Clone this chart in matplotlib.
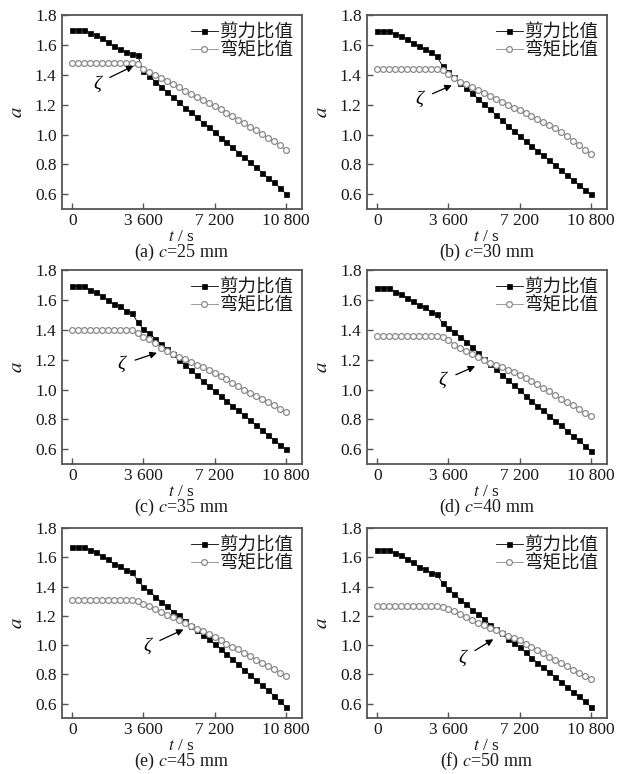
import matplotlib
matplotlib.use("Agg")
import matplotlib.pyplot as plt
from matplotlib.transforms import offset_copy

plt.rcParams['font.family'] = ['Liberation Serif', 'Noto Sans CJK SC']
plt.rcParams['mathtext.fontset'] = 'stix'

# ---------------- data ----------------
time_s = [0, 300, 600, 900, 1200, 1500, 1800, 2100, 2400, 2700, 3000, 3300,
          3600, 3900, 4200, 4500, 4800, 5100, 5400, 5700, 6000, 6300, 6600, 6900,
          7200, 7500, 7800, 8100, 8400, 8700, 9000, 9300, 9600, 9900, 10200, 10500, 10800]

x_ticks = [0, 3600, 7200, 10800]
x_ticklabels = ["0", "3 600", "7 200", "10 800"]
y_ticks = [0.6, 0.8, 1.0, 1.2, 1.4, 1.6, 1.8]
y_ticklabels = ["0.6", "0.8", "1.0", "1.2", "1.4", "1.6", "1.8"]

series_names = ["剪力比值", "弯矩比值"]
panel_letters = ["(a)", "(b)", "(c)", "(d)", "(e)", "(f)"]
panel_c_mm = [25, 30, 35, 40, 45, 50]

shear_a = [1.70, 1.70, 1.70, 1.68, 1.665, 1.645, 1.62, 1.59, 1.57, 1.555, 1.54, 1.53,
           1.425, 1.39, 1.355, 1.32, 1.285, 1.25, 1.215, 1.18, 1.15, 1.115, 1.08, 1.05,
           1.015, 0.98, 0.95, 0.915, 0.88, 0.85, 0.815, 0.78, 0.745, 0.71, 0.68, 0.645, 0.605]
bend_a = [1.48, 1.48, 1.48, 1.48, 1.48, 1.48, 1.48, 1.48, 1.48, 1.48, 1.48, 1.47,
          1.44, 1.42, 1.40, 1.378, 1.357, 1.335, 1.315, 1.293, 1.272, 1.25, 1.23, 1.21,
          1.19, 1.168, 1.146, 1.124, 1.10, 1.077, 1.053, 1.03, 1.005, 0.98, 0.955, 0.928, 0.90]

shear_b = [1.69, 1.69, 1.69, 1.675, 1.66, 1.64, 1.615, 1.59, 1.57, 1.55, 1.525, 1.46,
           1.42, 1.384, 1.348, 1.312, 1.276, 1.24, 1.204, 1.168, 1.132, 1.096, 1.06, 1.025,
           0.99, 0.957, 0.925, 0.892, 0.86, 0.827, 0.795, 0.762, 0.73, 0.697, 0.665, 0.632, 0.60]
bend_b = [1.44, 1.44, 1.44, 1.44, 1.44, 1.44, 1.44, 1.44, 1.44, 1.44, 1.44, 1.43,
          1.405, 1.38, 1.355, 1.335, 1.315, 1.295, 1.275, 1.255, 1.235, 1.215, 1.195, 1.18,
          1.165, 1.145, 1.125, 1.105, 1.085, 1.065, 1.044, 1.015, 0.99, 0.96, 0.93, 0.90, 0.87]

shear_c = [1.69, 1.69, 1.69, 1.665, 1.65, 1.627, 1.598, 1.571, 1.56, 1.526, 1.515, 1.452,
           1.403, 1.376, 1.34, 1.305, 1.27, 1.235, 1.20, 1.165, 1.13, 1.095, 1.06, 1.025,
           0.99, 0.957, 0.925, 0.892, 0.86, 0.827, 0.795, 0.762, 0.73, 0.697, 0.665, 0.632, 0.60]
bend_c = [1.40, 1.40, 1.40, 1.40, 1.40, 1.40, 1.40, 1.40, 1.40, 1.40, 1.40, 1.38,
          1.35, 1.335, 1.31, 1.28, 1.26, 1.24, 1.22, 1.205, 1.185, 1.165, 1.15, 1.13,
          1.11, 1.09, 1.07, 1.045, 1.025, 1.00, 0.98, 0.96, 0.94, 0.915, 0.895, 0.87, 0.85]

shear_d = [1.68, 1.68, 1.68, 1.655, 1.64, 1.615, 1.59, 1.565, 1.55, 1.522, 1.504, 1.444,
           1.41, 1.388, 1.352, 1.321, 1.285, 1.245, 1.205, 1.17, 1.135, 1.10, 1.065, 1.03,
           0.995, 0.96, 0.925, 0.89, 0.86, 0.825, 0.79, 0.76, 0.725, 0.69, 0.66, 0.625, 0.59]
bend_d = [1.36, 1.36, 1.36, 1.36, 1.36, 1.36, 1.36, 1.36, 1.36, 1.36, 1.36, 1.35,
          1.33, 1.30, 1.275, 1.255, 1.237, 1.22, 1.20, 1.18, 1.165, 1.15, 1.13, 1.115,
          1.10, 1.075, 1.055, 1.035, 1.01, 0.99, 0.965, 0.94, 0.92, 0.895, 0.87, 0.845, 0.82]

shear_e = [1.67, 1.67, 1.67, 1.65, 1.635, 1.61, 1.585, 1.555, 1.54, 1.512, 1.50, 1.444,
           1.398, 1.369, 1.33, 1.296, 1.266, 1.227, 1.204, 1.165, 1.13, 1.10, 1.07, 1.04,
           1.01, 0.975, 0.94, 0.905, 0.87, 0.83, 0.795, 0.76, 0.725, 0.69, 0.655, 0.615, 0.58]
bend_e = [1.31, 1.31, 1.31, 1.31, 1.31, 1.31, 1.31, 1.31, 1.31, 1.31, 1.31, 1.30,
          1.28, 1.265, 1.245, 1.225, 1.205, 1.19, 1.17, 1.15, 1.13, 1.11, 1.095, 1.075,
          1.055, 1.035, 1.01, 0.99, 0.97, 0.945, 0.925, 0.90, 0.88, 0.855, 0.835, 0.81, 0.79]

shear_f = [1.65, 1.65, 1.65, 1.63, 1.615, 1.59, 1.565, 1.535, 1.52, 1.496, 1.483, 1.425,
           1.38, 1.35, 1.31, 1.28, 1.24, 1.21, 1.18, 1.14, 1.11, 1.08, 1.045, 1.015,
           0.985, 0.95, 0.915, 0.88, 0.85, 0.815, 0.78, 0.75, 0.715, 0.68, 0.65, 0.615, 0.58]
bend_f = [1.27, 1.27, 1.27, 1.27, 1.27, 1.27, 1.27, 1.27, 1.27, 1.27, 1.27, 1.26,
          1.245, 1.23, 1.21, 1.19, 1.17, 1.15, 1.135, 1.115, 1.10, 1.08, 1.065, 1.05,
          1.035, 1.01, 0.99, 0.965, 0.945, 0.92, 0.90, 0.875, 0.855, 0.83, 0.81, 0.79, 0.77]

shear_all = [shear_a, shear_b, shear_c, shear_d, shear_e, shear_f]
bend_all = [bend_a, bend_b, bend_c, bend_d, bend_e, bend_f]

# zeta annotation: label position and arrow head (data coords)
zeta_text_t = [1240, 2130, 2500, 3310, 3770, 4300]
zeta_text_a = [1.34, 1.235, 1.167, 1.06, 0.99, 0.91]
zeta_head_t = [3100, 3770, 4280, 4950, 5630, 5870]
zeta_head_a = [1.46, 1.33, 1.246, 1.156, 1.107, 1.04]

# ---------------- figure ----------------
W, H = 617, 774
fig = plt.figure(figsize=(W / 100, H / 100), dpi=100)

col_left = [61.7, 366.7]
row_top = [15, 270, 528]
row_bot = [209.3, 464.3, 718.3]
ax_w = 240

spine_color = '#555555'
text_color = '#1a1a1a'
for i in range(6):
    r, c = divmod(i, 2)
    l = col_left[c] / W
    b = 1 - row_bot[r] / H
    h = (row_bot[r] - row_top[r]) / H
    ax = fig.add_axes([l, b, ax_w / W, h])

    ax.plot(time_s, shear_all[i], '-', color='black', lw=0.6, marker='s', ms=3.6,
            mfc='black', mec='black', mew=0.5, label=series_names[0], zorder=3)
    ax.plot(time_s, bend_all[i], '-', color='#8a8a8a', lw=0.6, marker='o', ms=4.2,
            mfc='white', mec='#8a8a8a', mew=0.9, label=series_names[1], zorder=4)

    ax.set_xlim(-540, 11610)
    ax.set_ylim(0.5, 1.8)
    ax.set_xticks(x_ticks)
    ax.set_xticklabels(x_ticklabels)
    ax.set_yticks(y_ticks)
    ax.set_yticklabels(y_ticklabels)
    ax.tick_params(direction='in', length=4, width=1.0, color=spine_color,
                   labelsize=12.5, labelcolor=text_color)
    ax.tick_params(axis='x', pad=3.0)
    ax.tick_params(axis='y', pad=3.6)
    for s in ax.spines.values():
        s.set_color(spine_color)
        s.set_linewidth(1.3)

    leg = ax.legend(loc='upper right', frameon=False,
                    prop={'family': ['Noto Sans CJK SC'], 'size': 13.3},
                    handlelength=1.45, handletextpad=0.1, labelspacing=0.0,
                    borderpad=0.0, borderaxespad=0.45)
    for t in leg.get_texts():
        t.set_color(text_color)

    ax.annotate('ζ', xy=(zeta_head_t[i], zeta_head_a[i]),
                xytext=(zeta_text_t[i], zeta_text_a[i]),
                fontsize=14, fontstyle='italic', family='Liberation Serif',
                ha='center', va='center', zorder=6,
                arrowprops=dict(arrowstyle='-|>', color='black', lw=0.9,
                                mutation_scale=10, shrinkA=5, shrinkB=0))

    # x axis label, caption and y label placed by baseline offsets from the axes
    tr_xl = offset_copy(ax.transAxes, fig=fig, x=0, y=-32, units='dots')
    ax.text(0.5, 0, r'$t$ / s', transform=tr_xl, ha='center', va='baseline',
            fontsize=12.5, color=text_color)
    tr_cap = offset_copy(ax.transAxes, fig=fig, x=0, y=-48, units='dots')
    ax.text(0.5, 0, panel_letters[i] + r' $c$=' + str(panel_c_mm[i]) + ' mm',
            transform=tr_cap, ha='center', va='baseline', fontsize=13, color=text_color)
    tr_yl = offset_copy(ax.transAxes, fig=fig, x=-44, y=0, units='dots')
    ax.text(0, 0.5, r'$a$', transform=tr_yl, ha='center', va='center',
            rotation=90, fontsize=15, color=text_color)

fig.savefig('out.png', dpi=100, facecolor='white')
